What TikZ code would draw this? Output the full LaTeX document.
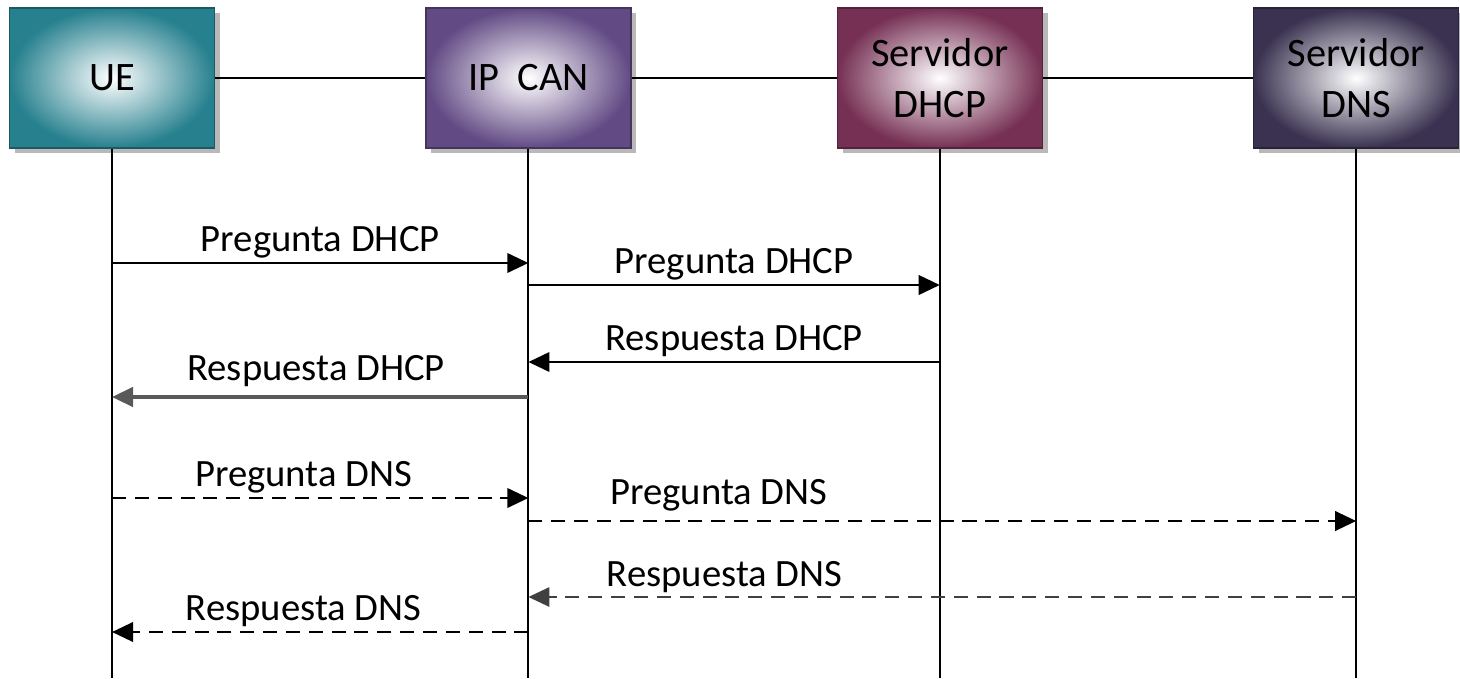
\documentclass[tikz,border=0pt]{standalone}
\usepackage{fontspec}
\setmainfont{Carlito}
\usepackage{tikz}
\usetikzlibrary{arrows.meta,positioning,shadows}

\definecolor{ue-color}{RGB}{38,128,142}
\definecolor{ipcan-color}{RGB}{98,74,132}
\definecolor{dhcp-color}{RGB}{118,48,84}
\definecolor{dns-color}{RGB}{58,50,80}

\begin{document}
\begin{tikzpicture}
  \tikzset{>={Triangle[length=12pt,width=11pt]}}
  \tikzset{entity/.style={draw=#1!70!black, line width=0.8pt, minimum width=4.1cm,
      minimum height=2.8cm, align=center, inner color=white, outer color=#1,
      drop shadow={shadow xshift=3pt, shadow yshift=-3pt, fill=gray!55, opacity=1},
      font=\fontsize{23}{29}\selectfont},
    msg/.style={->, line width=1.6pt},
    msg-text/.style={inner sep=2pt, font=\fontsize{22}{26}\selectfont},
    dash-msg/.style={msg, dash pattern=on 8pt off 5pt}}
  \useasboundingbox (0,0) rectangle (29.2,-13.56);
    % Entities
    \node [entity=ue-color] (ue) at (2.24,-1.56) {UE};
    \node [entity=ipcan-color, right=4.2cm of ue] (ip-can) {IP~~CAN};
    \node [entity=dhcp-color, right=4.1cm of ip-can] (servidor-dhcp) {Servidor\\DHCP};
    \node [entity=dns-color, right=4.2cm of servidor-dhcp] (servidor-dns) {Servidor\\DNS};
    \draw[line width=1.3pt] (ue) -- (ip-can);
    \draw[line width=1.3pt] (ip-can) -- (servidor-dhcp);
    \draw[line width=1.3pt] (servidor-dhcp) -- (servidor-dns);
    % Lifelines
    \coordinate (bottom) at (0,-13.56);
    \foreach \n in {ue,ip-can,servidor-dhcp,servidor-dns}
      \draw[line width=1.2pt] (\n.south) -- (\n.south |- bottom);
    % DHCP
    \draw[msg] (ue |- 0,-5.26) -- (ip-can |- 0,-5.26) node[midway, above, msg-text] {Pregunta DHCP};
    \draw[msg] (ip-can |- 0,-5.70) -- (servidor-dhcp |- 0,-5.70) node[midway, above, msg-text] {Pregunta DHCP};
    \draw[msg] (servidor-dhcp |- 0,-7.24) -- (ip-can |- 0,-7.24) node[midway, above, msg-text] {Respuesta DHCP};
    \draw[msg, line width=2pt, draw=black!65] (ip-can |- 0,-7.94) -- (ue |- 0,-7.94) node[pos=0.51, above=3pt, msg-text, text=black] {Respuesta DHCP};
    % DNS
    \draw[dash-msg] (ue |- 0,-9.96) -- (ip-can |- 0,-9.96) node[pos=0.46, above, msg-text] {Pregunta DNS};
    \draw[dash-msg] (ip-can |- 0,-10.42) -- (servidor-dns |- 0,-10.42) node[pos=0.23, above=3pt, msg-text] {Pregunta DNS};
    \draw[dash-msg, line width=1.3pt, draw=black!75] (servidor-dns |- 0,-11.94) -- (ip-can |- 0,-11.94) node[pos=0.763, above, msg-text, text=black] {Respuesta DNS};
    \draw[dash-msg] (ip-can |- 0,-12.64) -- (ue |- 0,-12.64) node[pos=0.54, above, msg-text] {Respuesta DNS};
\end{tikzpicture}
\end{document}
